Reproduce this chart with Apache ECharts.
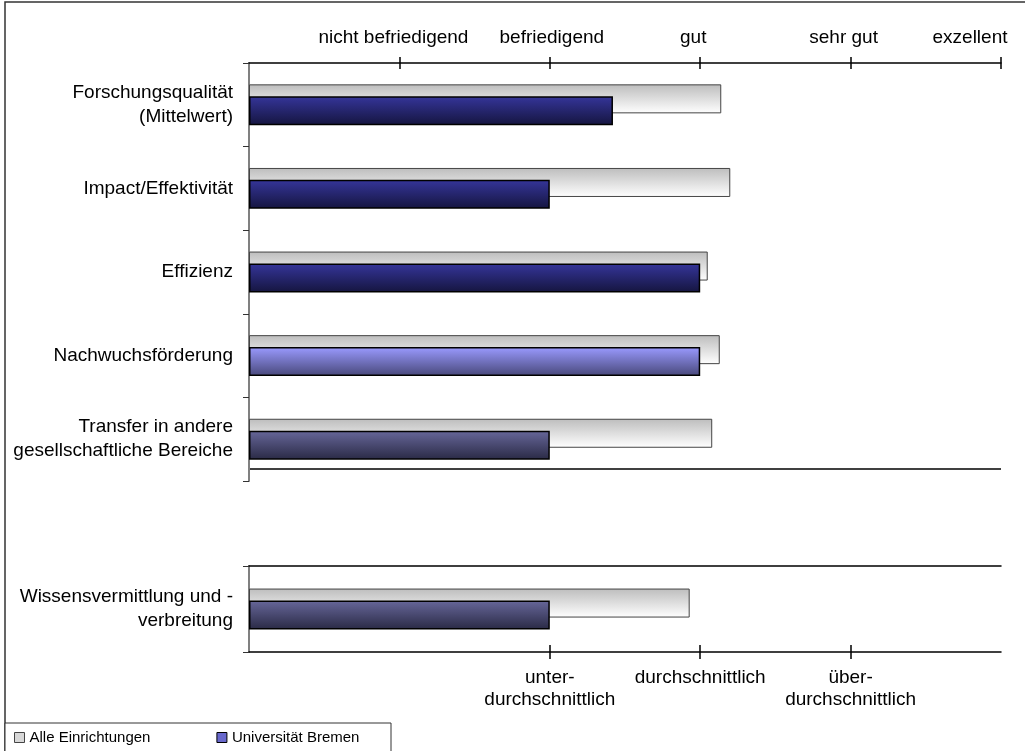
<!DOCTYPE html>
<html>
<head>
<meta charset="utf-8">
<script src="https://cdn.jsdelivr.net/npm/echarts@6/dist/echarts.min.js"></script>
<style>
  html, body { margin: 0; padding: 0; background: #fff; }
  #chart { width: 1025px; height: 751px; }
</style>
</head>
<body>
<div id="chart"></div>
<script>
// Research-rating categories (upper block) and teaching block (lower block)
const categoriesTop = [
  'Forschungsqualität\n(Mittelwert)',
  'Impact/Effektivität',
  'Effizienz',
  'Nachwuchsförderung',
  'Transfer in andere\ngesellschaftliche Bereiche'
];
const categoriesBottom = ['Wissensvermittlung und -\nverbreitung'];

// Ratings on a 0..5 scale
const alleTop = [3.14, 3.20, 3.05, 3.13, 3.08];
const bremenTop = [2.42, 2.00, 3.00, 3.00, 2.00];
const alleBottom = [2.93];
const bremenBottom = [2.00];

// Scale labels
const ratingLabels = ['nicht befriedigend', 'befriedigend', 'gut', 'sehr gut', 'exzellent'];
const ratingTicks = [1, 2, 3, 4, 5];
const compareLabels = ['unter-\ndurchschnittlich', 'durchschnittlich', 'über-\ndurchschnittlich'];
const compareTicks = [2, 3, 4];

const seriesNames = ['Alle Einrichtungen', 'Universität Bremen'];

// ---- styling ----
const FONT = 'Liberation Sans, Arial, sans-serif';
const AXIS_FONT = 19;
function vgrad(top, bottom) {
  return new echarts.graphic.LinearGradient(0, 0, 0, 1, [
    { offset: 0, color: top }, { offset: 1, color: bottom }
  ]);
}
const grayFill = vgrad('#bdbdbd', '#ffffff');
const navy = vgrad('#35359a', '#15153f');
const lavender = vgrad('#9a9aff', '#48487a');
const slate = vgrad('#67679a', '#2a2a45');
const bremenShadeTop = [navy, navy, navy, lavender, slate];
const bremenShadeBottom = [slate];

// horizontal nudges of the rating labels (px, negative = left)
const ratingNudge = [-6, 2, -7, -7, -31];
const ratingRich = {};
ratingNudge.forEach((dx, i) => {
  ratingRich['r' + i] = {
    fontSize: AXIS_FONT, color: '#000', fontFamily: FONT,
    padding: dx < 0 ? [0, -2 * dx, 0, 0] : [0, 0, 0, 2 * dx]
  };
});

const BAR_W = 29;
const BAR_GAP = '-59%';

function grayStyle() {
  return { color: grayFill, borderColor: '#444', borderWidth: 1 };
}
function bremenData(values, shades) {
  return values.map((v, i) => ({
    value: v,
    itemStyle: { color: shades[i], borderColor: '#000', borderWidth: 1.5 }
  }));
}

function valueAxis(gridIndex, position, opts) {
  return Object.assign({
    type: 'value', gridIndex, position, min: 0, max: 5, interval: 1,
    splitLine: { show: false },
    axisLine: { show: true, lineStyle: { color: '#000', width: 1.5 } },
    axisTick: { show: false },
    axisLabel: { show: false }
  }, opts);
}

function categoryAxis(gridIndex, data, tickFilter) {
  return {
    type: 'category', gridIndex, inverse: true, data,
    axisLine: { show: true, lineStyle: { color: '#808080', width: 2 } },
    axisTick: { show: true, length: 6, interval: tickFilter, lineStyle: { color: '#333', width: 1 } },
    axisLabel: { fontSize: AXIS_FONT, color: '#000', margin: 16, lineHeight: 24, align: 'right', fontFamily: FONT }
  };
}

const option = {
  animation: false,
  backgroundColor: '#fff',
  textStyle: { fontFamily: FONT },
  grid: [
    { left: 249, top: 63, width: 752, height: 418, outerBoundsMode: 'none' },
    { left: 249, top: 566, width: 752, height: 86, outerBoundsMode: 'none' }
  ],
  xAxis: [
    // upper block scale (top), ticks outside with labels
    valueAxis(0, 'top', {
      axisTick: { show: true, length: 6, customValues: ratingTicks, lineStyle: { color: '#000', width: 1.5 } },
      axisLabel: {
        show: true, customValues: ratingTicks, margin: 16,
        fontSize: AXIS_FONT, color: '#000', fontFamily: FONT,
        rich: ratingRich,
        formatter: v => {
          const i = ratingTicks.indexOf(v);
          return '{r' + i + '|' + ratingLabels[i] + '}';
        }
      }
    }),
    // inner half of the crossing ticks
    valueAxis(0, 'top', {
      axisLine: { show: false },
      axisTick: { show: true, inside: true, length: 6, customValues: ratingTicks, lineStyle: { color: '#000', width: 1.5 } }
    }),
    // lower block scale (bottom)
    valueAxis(1, 'bottom', {
      axisTick: { show: true, length: 7, customValues: compareTicks, lineStyle: { color: '#000', width: 1.5 } },
      axisLabel: {
        show: true, customValues: compareTicks, margin: 15,
        fontSize: AXIS_FONT, color: '#000', fontFamily: FONT, lineHeight: 22,
        formatter: v => compareLabels[compareTicks.indexOf(v)]
      }
    }),
    valueAxis(1, 'bottom', {
      axisLine: { show: false },
      axisTick: { show: true, inside: true, length: 7, customValues: compareTicks, lineStyle: { color: '#000', width: 1.5 } }
    }),
    // upper border line of the lower block
    valueAxis(1, 'top', {})
  ],
  yAxis: [
    categoryAxis(0, categoriesTop, i => i < categoriesTop.length),
    categoryAxis(1, categoriesBottom, 0)
  ],
  legend: {
    left: 9, top: 725, itemWidth: 10, itemHeight: 10, itemGap: 66,
    icon: 'rect',
    textStyle: { fontSize: 15, color: '#000', fontFamily: FONT },
    data: [
      { name: seriesNames[0], itemStyle: { color: '#d8d8d8', borderColor: '#444', borderWidth: 1 } },
      { name: seriesNames[1], itemStyle: { color: '#6868cc', borderColor: '#000', borderWidth: 1 } }
    ]
  },
  series: [
    {
      name: seriesNames[0], type: 'bar', xAxisIndex: 0, yAxisIndex: 0,
      barWidth: BAR_W, barGap: BAR_GAP, itemStyle: grayStyle(), data: alleTop
    },
    {
      name: seriesNames[1], type: 'bar', xAxisIndex: 0, yAxisIndex: 0,
      barWidth: BAR_W, barGap: BAR_GAP, itemStyle: { color: navy },
      data: bremenData(bremenTop, bremenShadeTop)
    },
    {
      name: seriesNames[0], type: 'bar', xAxisIndex: 2, yAxisIndex: 1,
      barWidth: BAR_W, barGap: BAR_GAP, itemStyle: grayStyle(), data: alleBottom
    },
    {
      name: seriesNames[1], type: 'bar', xAxisIndex: 2, yAxisIndex: 1,
      barWidth: BAR_W, barGap: BAR_GAP, itemStyle: { color: navy },
      data: bremenData(bremenBottom, bremenShadeBottom)
    }
  ],
  graphic: [
    // outer frame of the figure
    { type: 'rect', z: -1, shape: { x: 5, y: 2, width: 1060, height: 800 },
      style: { fill: null, stroke: '#333', lineWidth: 1.5 } },
    // closing line beneath the upper block
    { type: 'line', shape: { x1: 249, y1: 469, x2: 1001, y2: 469 },
      style: { stroke: '#000', lineWidth: 1.5 } },
    // legend frame
    { type: 'rect', shape: { x: 5, y: 723, width: 386, height: 60 },
      style: { fill: '#fff', stroke: '#333', lineWidth: 1 }, z: -1 }
  ]
};

const chart = echarts.init(document.getElementById('chart'), null, { renderer: 'canvas' });
chart.setOption(option);
</script>
</body>
</html>
